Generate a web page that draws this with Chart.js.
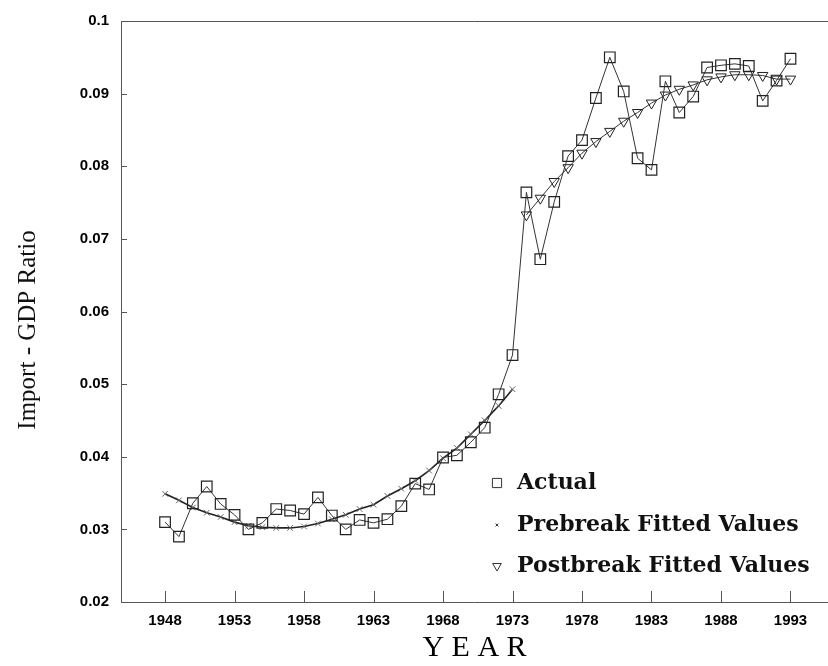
<!DOCTYPE html>
<html>
<head>
<meta charset="utf-8">
<title>Import - GDP Ratio</title>
<script src="https://cdn.jsdelivr.net/npm/chart.js@4.4.1/dist/chart.umd.min.js"></script>
<style>
  html, body { margin: 0; padding: 0; background: #fff; }
  #wrap { position: relative; width: 828px; height: 666px; }
</style>
</head>
<body>
<div id="wrap"><canvas id="chart" width="828" height="666"></canvas></div>
<script>
// Years, one observation per year
const years = [1948, 1949, 1950, 1951, 1952, 1953, 1954, 1955, 1956, 1957,
               1958, 1959, 1960, 1961, 1962, 1963, 1964, 1965, 1966, 1967,
               1968, 1969, 1970, 1971, 1972, 1973, 1974, 1975, 1976, 1977,
               1978, 1979, 1980, 1981, 1982, 1983, 1984, 1985, 1986, 1987,
               1988, 1989, 1990, 1991, 1992, 1993];
const xTickYears = [1948, 1953, 1958, 1963, 1968, 1973, 1978, 1983, 1988, 1993];
const yTickValues = [0.02, 0.03, 0.04, 0.05, 0.06, 0.07, 0.08, 0.09, 0.1];

// Actual import / GDP ratio, 1948-1993
const actualValues = [0.0310, 0.0290, 0.0336, 0.0359, 0.0335, 0.0320, 0.0300, 0.0309, 0.0328, 0.0326,
                      0.0321, 0.0344, 0.0319, 0.0300, 0.0313, 0.0309, 0.0314, 0.0332, 0.0363, 0.0355,
                      0.0399, 0.0402, 0.0420, 0.0440, 0.0486, 0.0540, 0.0764, 0.0672, 0.0751, 0.0814,
                      0.0836, 0.0894, 0.0950, 0.0903, 0.0811, 0.0795, 0.0917, 0.0874, 0.0896, 0.0936,
                      0.0939, 0.0941, 0.0938, 0.0890, 0.0918, 0.0948];
// Prebreak fitted values, 1948-1973
const prebreakValues = [0.0349, 0.0340, 0.0330, 0.0323, 0.0317, 0.0310, 0.0305, 0.0303, 0.0302, 0.0302,
                        0.0304, 0.0308, 0.0314, 0.0320, 0.0328, 0.0334, 0.0346, 0.0356, 0.0367, 0.0381,
                        0.0398, 0.0412, 0.0431, 0.0450, 0.0470, 0.0493];
// Postbreak fitted values, 1974-1993
const postbreakValues = [0.0733, 0.0756, 0.0779, 0.0798, 0.0818, 0.0834, 0.0848, 0.0862, 0.0874, 0.0887,
                         0.0898, 0.0906, 0.0912, 0.0919, 0.0923, 0.0926, 0.0926, 0.0925, 0.0920, 0.0920];

const seriesNames = ['Actual', 'Prebreak Fitted Values', 'Postbreak Fitted Values'];

const prebreakYears = years.slice(0, prebreakValues.length);
const postbreakYears = years.slice(years.length - postbreakValues.length);

function toPoints(xs, ys) {
    return xs.map((x, i) => ({ x: x, y: ys[i] }));
}

// Frame (top, left, bottom) and inward tick marks
const framePlugin = {
    id: 'frame',
    beforeDatasetsDraw(chart) {
        const { ctx, chartArea: a, scales } = chart;
        ctx.save();
        ctx.strokeStyle = '#555';
        ctx.lineWidth = 1;
        ctx.beginPath();
        ctx.moveTo(a.left + 0.5, a.top + 0.5);
        ctx.lineTo(a.right, a.top + 0.5);
        ctx.moveTo(a.left + 0.5, a.top);
        ctx.lineTo(a.left + 0.5, a.bottom + 0.5);
        ctx.moveTo(a.left, a.bottom + 0.5);
        ctx.lineTo(a.right, a.bottom + 0.5);
        scales.x.ticks.forEach(t => {
            const px = Math.round(scales.x.getPixelForValue(t.value)) + 0.5;
            ctx.moveTo(px, a.bottom);
            ctx.lineTo(px, a.bottom - 11);
        });
        scales.y.ticks.forEach(t => {
            const py = Math.round(scales.y.getPixelForValue(t.value)) + 0.5;
            ctx.moveTo(a.left, py);
            ctx.lineTo(a.left + 6, py);
        });
        ctx.stroke();
        ctx.restore();
    }
};

// Rotated y axis title, a bit below the middle like the original
const yTitlePlugin = {
    id: 'yTitle',
    afterDraw(chart) {
        const ctx = chart.ctx;
        ctx.save();
        ctx.translate(28, 330);
        ctx.rotate(-Math.PI / 2);
        ctx.font = '25px "Liberation Serif", "Times New Roman", serif';
        ctx.fillStyle = '#111';
        ctx.textAlign = 'center';
        ctx.textBaseline = 'middle';
        ctx.fillText('Import - GDP Ratio', 0, 0);
        ctx.restore();
    }
};

// Legend inside the plot, lower right
const legendPlugin = {
    id: 'innerLegend',
    afterDatasetsDraw(chart) {
        const ctx = chart.ctx;
        const rows = [483, 525, 566];
        const markers = [
            { pointStyle: 'rect', radius: 6.5, rotation: 0, borderWidth: 1 },
            { pointStyle: 'crossRot', radius: 2, rotation: 0, borderWidth: 1 },
            { pointStyle: 'triangle', radius: 5, rotation: 180, borderWidth: 1 }
        ];
        ctx.save();
        chart.data.datasets.forEach((ds, i) => {
            ctx.strokeStyle = '#333';
            ctx.fillStyle = 'rgba(0,0,0,0)';
            ctx.lineWidth = 1;
            Chart.helpers.drawPoint(ctx, markers[i], 497, rows[i]);
            ctx.fillStyle = '#111';
            ctx.font = 'bold 22px "DejaVu Serif", serif';
            ctx.textAlign = 'left';
            ctx.textBaseline = 'middle';
            ctx.fillText(ds.label, 517, rows[i]);
        });
        ctx.restore();
    }
};

const tickFont = { family: '"Liberation Sans", Arial, sans-serif', size: 15, weight: 'bold' };

new Chart(document.getElementById('chart'), {
    type: 'line',
    data: {
        datasets: [
            {
                label: seriesNames[0],
                data: toPoints(years, actualValues),
                borderColor: '#333',
                borderWidth: 1,
                pointStyle: 'rect',
                pointRadius: 7.5,
                pointBorderWidth: 1.2,
                pointBorderColor: '#222',
                pointBackgroundColor: 'rgba(0,0,0,0)',
                tension: 0,
                fill: false
            },
            {
                label: seriesNames[1],
                data: toPoints(prebreakYears, prebreakValues),
                borderColor: '#222',
                borderWidth: 1.6,
                pointStyle: 'crossRot',
                pointRadius: 4,
                pointBorderWidth: 1,
                pointBorderColor: '#666',
                tension: 0,
                fill: false
            },
            {
                label: seriesNames[2],
                data: toPoints(postbreakYears, postbreakValues),
                borderColor: '#333',
                borderWidth: 1,
                pointStyle: 'triangle',
                pointRotation: 180,
                pointRadius: 6,
                pointBorderWidth: 1,
                pointBorderColor: '#222',
                pointBackgroundColor: 'rgba(0,0,0,0)',
                tension: 0,
                fill: false
            }
        ]
    },
    options: {
        responsive: false,
        animation: false,
        devicePixelRatio: 1,
        layout: { autoPadding: false, padding: { top: 15, right: 0, bottom: 0, left: 0 } },
        plugins: {
            legend: { display: false },
            tooltip: { enabled: false }
        },
        scales: {
            x: {
                type: 'linear',
                min: 1944.83,
                max: 1995.7,
                grid: { display: false, drawTicks: false },
                border: { display: false },
                afterBuildTicks: scale => { scale.ticks = xTickYears.map(v => ({ value: v })); },
                afterFit: scale => {
                    scale.height = 64;
                    scale.paddingLeft = 0;
                    scale.paddingRight = 0;
                },
                ticks: {
                    font: tickFont,
                    color: '#000',
                    padding: 10,
                    maxRotation: 0,
                    autoSkip: false,
                    callback: v => String(v)
                },
                title: {
                    display: true,
                    text: 'Y E A R',
                    color: '#000',
                    font: { family: '"Liberation Serif", "Times New Roman", serif', size: 30 },
                    padding: 0
                }
            },
            y: {
                type: 'linear',
                min: 0.02,
                max: 0.1,
                grid: { display: false, drawTicks: false },
                border: { display: false },
                afterBuildTicks: scale => { scale.ticks = yTickValues.map(v => ({ value: v })); },
                afterFit: scale => { scale.width = 121; },
                ticks: {
                    font: tickFont,
                    color: '#000',
                    padding: 12,
                    callback: v => String(Number(v.toFixed(2)))
                }
            }
        }
    },
    plugins: [framePlugin, yTitlePlugin, legendPlugin]
});
</script>
</body>
</html>
